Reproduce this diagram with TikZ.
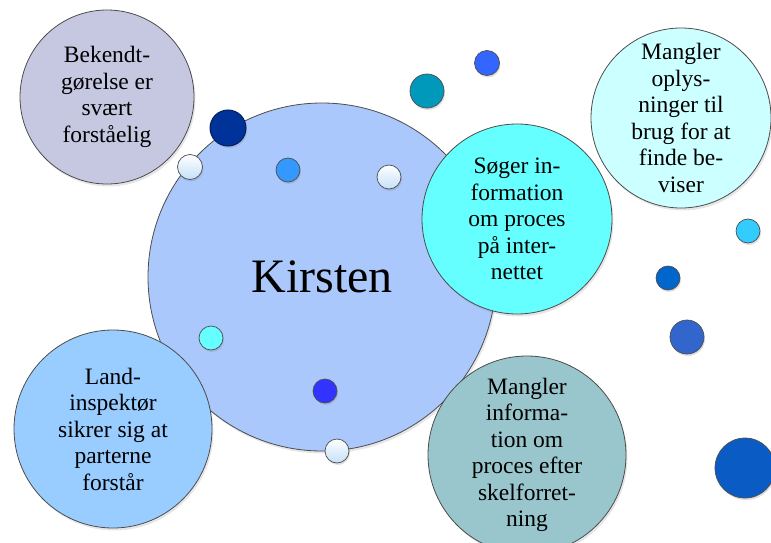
\documentclass[tikz,border=0pt]{standalone}
\usepackage{fontspec}
\setmainfont{Liberation Serif}
\usetikzlibrary{shadows}
\definecolor{kirstenblue}{HTML}{AAC8FC}
\definecolor{lavender}{HTML}{C6C8E2}
\definecolor{aqua}{HTML}{66FFFF}
\definecolor{paleaqua}{HTML}{CCFFFF}
\definecolor{skyblue}{HTML}{99CCFF}
\definecolor{greyteal}{HTML}{99C5CC}
\definecolor{navy}{HTML}{003399}
\definecolor{paleblue}{HTML}{C4E0FA}
\definecolor{midblue}{HTML}{3399FF}
\definecolor{deepblue}{HTML}{3333FF}
\definecolor{tealblue}{HTML}{0099BB}
\definecolor{royalblue}{HTML}{3366FF}
\definecolor{lightsky}{HTML}{33CCFF}
\definecolor{oceanblue}{HTML}{0066CC}
\definecolor{steelblue}{HTML}{3366CC}
\definecolor{bigblue}{HTML}{0A5CC4}
\definecolor{rim}{HTML}{4D4D4D}

\begin{document}
\begin{tikzpicture}[x=1pt, y=-1pt,
  topic/.style={circle, draw=rim, line width=0.8pt, inner sep=0pt, align=center,
    font=\fontsize{23.5}{26.5}\selectfont,
    drop shadow={shadow xshift=1.5pt, shadow yshift=-2.5pt, opacity=0.2}},
  bubble/.style={circle, draw=rim, line width=0.7pt, inner sep=0pt, fill=#1,
    drop shadow={shadow xshift=1pt, shadow yshift=-2pt, opacity=0.25}},
  palebubble/.style={circle, draw=rim, line width=0.7pt, inner sep=0pt,
    top color=white, bottom color=paleblue,
    drop shadow={shadow xshift=1pt, shadow yshift=-2pt, opacity=0.25}}
]
  \useasboundingbox (0,0) rectangle (771,543);

  % Centre
  \node[topic, fill=kirstenblue, minimum size=348pt, font=\fontsize{48}{52}\selectfont] (kirsten) at (322,277) {Kirsten};

  % Topics
  \node[topic, fill=lavender, minimum size=174pt] (bekendt) at (107,97) {Bekendt-\\gørelse er\\svært\\forståelig};
  \node[topic, fill=paleaqua, minimum size=180pt] (oplysninger) at (681,118) {Mangler\\oplys-\\ninger til\\brug for at\\finde be-\\viser};
  \node[topic, fill=aqua, minimum size=190pt] (soeger) at (517,219) {Søger in-\\formation\\om proces\\på inter-\\nettet};
  \node[topic, fill=skyblue, minimum size=198pt] (landinsp) at (113,429) {Land-\\inspektør\\sikrer sig at\\parterne\\forstår};
  \node[topic, fill=greyteal, minimum size=198pt] (skelforr) at (527,455) {Mangler\\informa-\\tion om\\proces efter\\skelforret-\\ning};

  % Bubbles
  \node[bubble=navy, draw=navy!60!black, line width=1pt, minimum size=36pt] (navybub) at (228,128) {};
  \node[palebubble, minimum size=25pt] (palebubA) at (190,167) {};
  \node[bubble=midblue, minimum size=24pt] (midbub) at (288,170) {};
  \node[palebubble, minimum size=24pt] (palebubB) at (389,177) {};
  \node[bubble=aqua, minimum size=24pt] (aquabub) at (211,338) {};
  \node[bubble=deepblue, minimum size=24pt] (deepbub) at (325,391) {};
  \node[palebubble, minimum size=24pt] (palebubC) at (337,451) {};
  \node[bubble=tealblue, minimum size=34pt] (tealbub) at (427,91) {};
  \node[bubble=royalblue, minimum size=25pt] (royalbub) at (487,63) {};
  \node[bubble=lightsky, minimum size=24pt] (skybub) at (748,231) {};
  \node[bubble=oceanblue, minimum size=24pt] (oceanbub) at (668,278) {};
  \node[bubble=steelblue, minimum size=34pt] (steelbub) at (687,337) {};
  \node[bubble=bigblue, minimum size=60pt] (bigbub) at (745,468) {};
\end{tikzpicture}
\end{document}
